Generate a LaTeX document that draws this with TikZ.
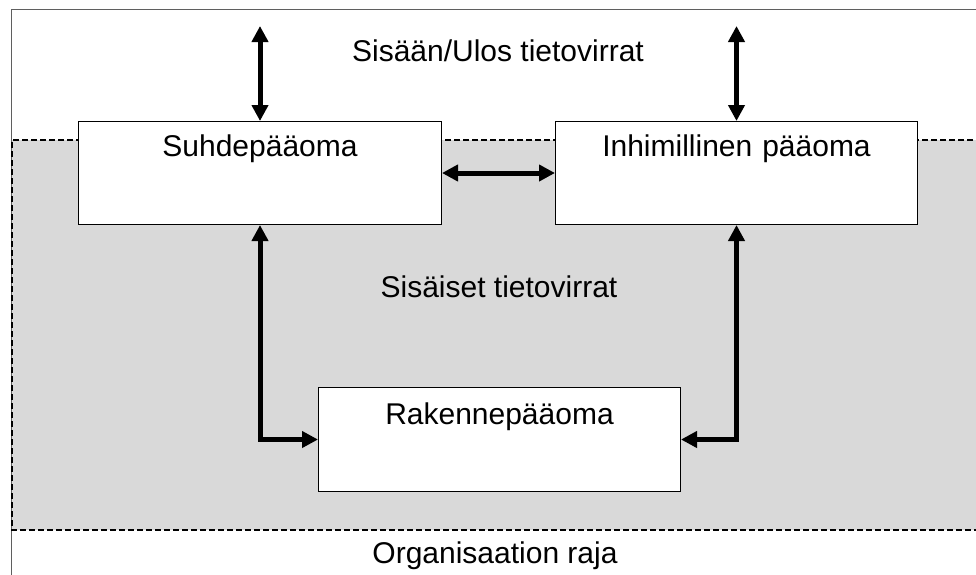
\documentclass[tikz,border=0pt]{standalone}
\usepackage{fontspec}
\setmainfont{Liberation Sans}
\usetikzlibrary{arrows.meta}
\definecolor{framegray}{HTML}{5F5F5F}
\definecolor{orgfill}{HTML}{D9D9D9}
\begin{document}
\begin{tikzpicture}[x=1pt,y=-1pt,
  txt/.style={font=\fontsize{30}{36}\selectfont, inner sep=0pt, anchor=base},
  capbox/.style={draw=black, line width=1pt, fill=white, anchor=north west,
    inner xsep=0pt, inner ysep=0pt, align=center,
    font=\fontsize{30}{36}\selectfont, text height=35pt},
  flow/.style={line width=5pt,
    {Triangle[length=16pt,width=16pt]}-{Triangle[length=16pt,width=16pt]}},
  boundary/.style={draw=black, line width=1.1pt, dash pattern=on 6pt off 3pt}]
  \useasboundingbox (0,0) rectangle (976,574);
  \clip (0,0) rectangle (976,574);

  % outer frame
  \draw[framegray, line width=1pt] (11,600) -- (11,9) -- (1000,9);

  % organisation area
  \fill[orgfill] (12,140) rectangle (1000,530);
  \draw[boundary] (1000,140) -- (12,140) -- (12,530) -- (1000,530);

  % capital boxes
  \node[capbox, text width=363pt, text depth=68pt] (suhde) at (78,121) {Suhdepääoma};
  \node[capbox, text width=362pt, text depth=68pt] (inh) at (555,121) {Inhimillinen pääoma};
  \node[capbox, text width=362pt, text height=37pt, text depth=67pt] (rak) at (318,387) {Rakennepääoma};

  % labels
  \node[txt] (ext) at (498,61) {Sisään/Ulos tietovirrat};
  \node[txt] (int) at (499,297.5) {Sisäiset tietovirrat};
  \node[txt] (org) at (495,563) {Organisaation raja};

  % flows
  \coordinate (outL) at (suhde.north |- 0,26);
  \coordinate (outR) at (inh.north |- 0,26);
  \draw[flow] (outL) -- (suhde.north);
  \draw[flow] (outR) -- (inh.north);
  \draw[flow] (suhde.east) -- (inh.west);
  \draw[flow] (suhde.south) |- (rak.west);
  \draw[flow] (inh.south) |- (rak.east);
\end{tikzpicture}
\end{document}
